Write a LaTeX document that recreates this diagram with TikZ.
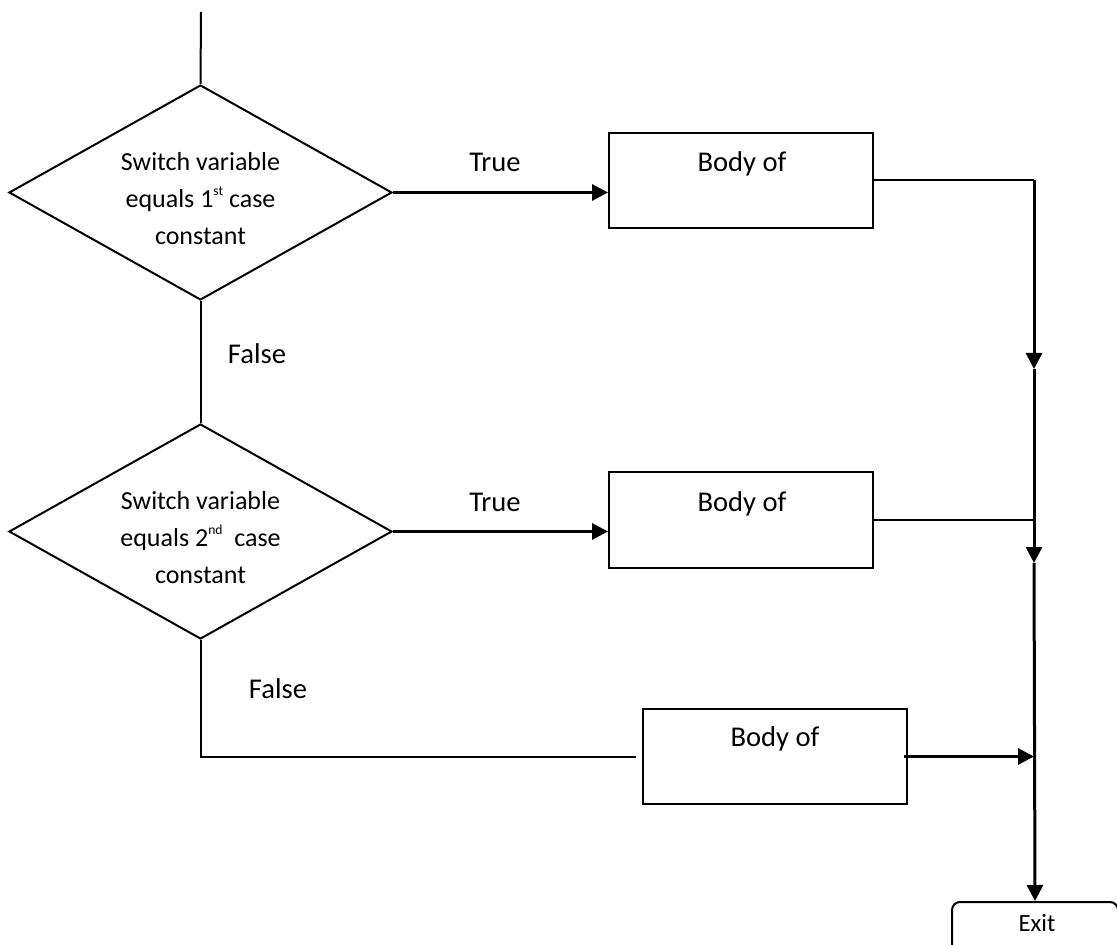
\documentclass[tikz,border=0pt]{standalone}
\usepackage{fontspec}
\setmainfont{Carlito}
\usetikzlibrary{shapes.geometric,arrows.meta,calc}
% small raised ordinal suffix
\newcommand\ordsuffix[1]{\raisebox{6.4pt}{\fontsize{6.8}{7}\selectfont #1}}
\begin{document}
\begin{tikzpicture}[x=0.5pt,y=-0.5pt,
  line/.style={line width=1pt},
  flow/.style={line width=1.5pt,-{Triangle[length=8pt,width=8pt]}},
  decision/.style={diamond,draw,line width=1pt,minimum width=191.5pt,
    minimum height=107.5pt,inner sep=0pt,aspect=1.78},
  dtext/.style={align=center,font=\fontsize{13}{18.5}\selectfont,inner sep=0pt},
  bodybox/.style={rectangle,draw,line width=1pt,minimum width=132pt,
    minimum height=47.5pt,inner sep=0pt},
  lbl/.style={font=\fontsize{14.3}{17}\selectfont,inner sep=0pt,anchor=base},
  exitbox/.style={rectangle,draw,line width=1pt,rounded corners=4pt,
    minimum width=83pt,minimum height=30pt,inner sep=0pt},
]
\useasboundingbox (0,0) rectangle (1117,945);
\clip (0,0) rectangle (1117,945);

% decisions
\coordinate (start) at (201,12);
\node[decision] (d1) at (200.5,192.5) {};
\node[dtext] (d1t) at (200.5,199) {Switch variable\\equals 1\ordsuffix{st} case\\constant};
\node[decision] (d2) at (200.5,531.5) {};
\node[dtext] (d2t) at (200.5,538) {Switch variable\\equals 2\ordsuffix{nd}~ case\\constant};

% case bodies
\node[bodybox] (b1) at (741,180.5) {};
\node[lbl] (b1t) at (742,172) {Body of};
\node[bodybox] (b2) at (741,520) {};
\node[lbl] (b2t) at (742,511.5) {Body of};
\node[bodybox] (b3) at (775,756.5) {};
\node[lbl] (b3t) at (775,746.5) {Body of};

% branch labels
\node[lbl] (t1) at (495,171.5) {True};
\node[lbl] (t2) at (495,511) {True};
\node[lbl] (f1) at (257,364) {False};
\node[lbl] (f2) at (278,698) {False};

% exit
\node[exitbox] (exit) at (1035,932) {};
\node[font=\fontsize{12.4}{15}\selectfont,inner sep=0pt,anchor=base] (exitt) at (1037,931) {Exit};

% collecting rail
\coordinate (rail) at (1034,0);
\coordinate (m1) at (1034,369);
\coordinate (m2) at (1034,563);

% connectors
\draw[line] (start) -- (d1.north);
\draw[line] (d1.south) -- (d2.north);
\draw[flow] (d1.east) -- (d1.east -| b1.west);
\draw[flow] (d2.east) -- (d2.east -| b2.west);
\draw[line] (d2.south) |- ($(b3.west)+(-6,0)$);
\draw[flow] ($(b3.east)+(-4,0)$) -- (b3.east -| rail);
\draw[line] (b1.east) -- (b1.east -| rail);
\draw[line] (b2.east) -- (b2.east -| rail);
\draw[flow] (b1.east -| rail) -- (m1);
\draw[flow] (m1) -- (m2);
\draw[flow] (m2) -- (exit.north);
\end{tikzpicture}
\end{document}
